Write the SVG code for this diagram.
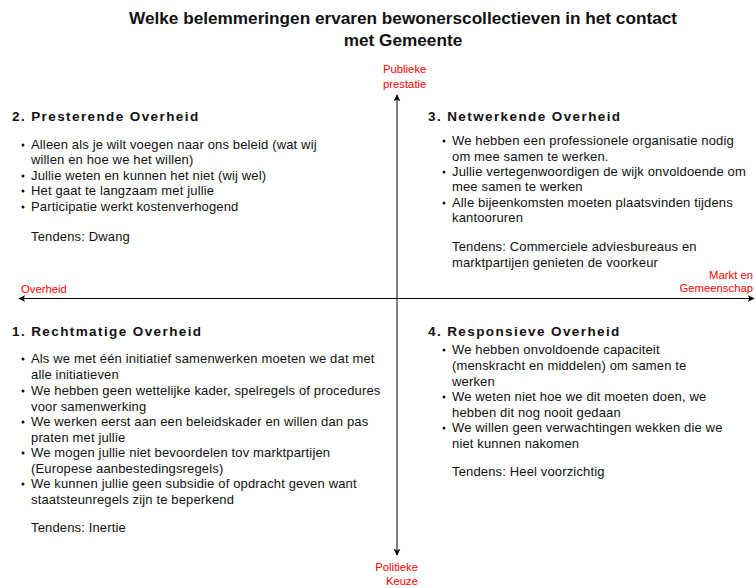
<svg xmlns="http://www.w3.org/2000/svg" width="756" height="588" viewBox="0 0 756 588">
  <style>
    text { font-family: "Liberation Sans", Arial, sans-serif; fill: #111; }
    .title { font-size: 17.2px; font-weight: bold; text-anchor: middle; }
    .head { font-size: 13.5px; font-weight: bold; letter-spacing: 1.4px; }
    .body { font-size: 13px; letter-spacing: 0.15px; }
    .axis-label { font-size: 11.3px; fill: #ff0000; }
    .axis { stroke: #000; stroke-width: 1; fill: none; }
    .dot { fill: #111; }
  </style>
  <defs>
    <marker id="arrow" viewBox="0 0 10 10" refX="9" refY="5" markerWidth="7" markerHeight="7" orient="auto">
      <path d="M0,0 L10,5 L0,10 L2.5,5 Z" fill="#000"/>
    </marker>
  </defs>

  <g id="title">
    <text class="title" x="403" y="24">Welke belemmeringen ervaren bewonerscollectieven in het contact</text>
    <text class="title" x="403" y="46">met Gemeente</text>
  </g>

  <g id="connectors">
    <line class="axis" x1="397" y1="298.5" x2="397" y2="95" marker-end="url(#arrow)"/>
    <line class="axis" x1="397" y1="298.5" x2="397" y2="555" marker-end="url(#arrow)"/>
    <line class="axis" x1="397" y1="298.5" x2="19" y2="298.5" marker-end="url(#arrow)"/>
    <line class="axis" x1="397" y1="298.5" x2="754" y2="298.5" marker-end="url(#arrow)"/>
  </g>

  <g id="axis-labels">
    <text class="axis-label" x="383" y="73">Publieke</text>
    <text class="axis-label" x="383" y="88">prestatie</text>
    <text class="axis-label" x="21" y="293">Overheid</text>
    <text class="axis-label" x="753" y="279" text-anchor="end">Markt en</text>
    <text class="axis-label" x="753" y="292" text-anchor="end">Gemeenschap</text>
    <text class="axis-label" x="418" y="571" text-anchor="end">Politieke</text>
    <text class="axis-label" x="418" y="585" text-anchor="end">Keuze</text>
  </g>

  <g id="q2-presterende">
    <text class="head" x="12" y="121">2. Presterende Overheid</text>
    <circle class="dot" cx="23" cy="145" r="1.5"/>
    <text class="body" x="31" y="149">Alleen als je wilt voegen naar ons beleid (wat wij</text>
    <text class="body" x="31" y="164">willen en hoe we het willen)</text>
    <circle class="dot" cx="23" cy="176" r="1.5"/>
    <text class="body" x="31" y="180">Jullie weten en kunnen het niet (wij wel)</text>
    <circle class="dot" cx="23" cy="191" r="1.5"/>
    <text class="body" x="31" y="195">Het gaat te langzaam met jullie</text>
    <circle class="dot" cx="23" cy="207" r="1.5"/>
    <text class="body" x="31" y="211">Participatie werkt kostenverhogend</text>
    <text class="body" x="31" y="241">Tendens: Dwang</text>
  </g>

  <g id="q3-netwerkende">
    <text class="head" x="428" y="121">3. Netwerkende Overheid</text>
    <circle class="dot" cx="444" cy="141" r="1.5"/>
    <text class="body" x="452" y="145">We hebben een professionele organisatie nodig</text>
    <text class="body" x="452" y="161">om mee samen te werken.</text>
    <circle class="dot" cx="444" cy="172" r="1.5"/>
    <text class="body" x="452" y="176">Jullie vertegenwoordigen de wijk onvoldoende om</text>
    <text class="body" x="452" y="191">mee samen te werken</text>
    <circle class="dot" cx="444" cy="203" r="1.5"/>
    <text class="body" x="452" y="207">Alle bijeenkomsten moeten plaatsvinden tijdens</text>
    <text class="body" x="452" y="222">kantooruren</text>
    <text class="body" x="452" y="251">Tendens: Commerciele adviesbureaus en</text>
    <text class="body" x="452" y="267">marktpartijen genieten de voorkeur</text>
  </g>

  <g id="q1-rechtmatige">
    <text class="head" x="12" y="336">1. Rechtmatige Overheid</text>
    <circle class="dot" cx="23" cy="359" r="1.5"/>
    <text class="body" x="31" y="363">Als we met één initiatief samenwerken moeten we dat met</text>
    <text class="body" x="31" y="379">alle initiatieven</text>
    <circle class="dot" cx="23" cy="391" r="1.5"/>
    <text class="body" x="31" y="395">We hebben geen wettelijke kader, spelregels of procedures</text>
    <text class="body" x="31" y="411">voor samenwerking</text>
    <circle class="dot" cx="23" cy="422" r="1.5"/>
    <text class="body" x="31" y="426">We werken eerst aan een beleidskader en willen dan pas</text>
    <text class="body" x="31" y="442">praten met jullie</text>
    <circle class="dot" cx="23" cy="453" r="1.5"/>
    <text class="body" x="31" y="457">We mogen jullie niet bevoordelen tov marktpartijen</text>
    <text class="body" x="31" y="473">(Europese aanbestedingsregels)</text>
    <circle class="dot" cx="23" cy="484" r="1.5"/>
    <text class="body" x="31" y="488">We kunnen jullie geen subsidie of opdracht geven want</text>
    <text class="body" x="31" y="504">staatsteunregels zijn te beperkend</text>
    <text class="body" x="31" y="532">Tendens: Inertie</text>
  </g>

  <g id="q4-responsieve">
    <text class="head" x="428" y="336">4. Responsieve Overheid</text>
    <circle class="dot" cx="444" cy="350" r="1.5"/>
    <text class="body" x="452" y="354">We hebben onvoldoende capaciteit</text>
    <text class="body" x="452" y="370">(menskracht en middelen) om samen te</text>
    <text class="body" x="452" y="386">werken</text>
    <circle class="dot" cx="444" cy="397" r="1.5"/>
    <text class="body" x="452" y="401">We weten niet hoe we dit moeten doen, we</text>
    <text class="body" x="452" y="417">hebben dit nog nooit gedaan</text>
    <circle class="dot" cx="444" cy="428" r="1.5"/>
    <text class="body" x="452" y="432">We willen geen verwachtingen wekken die we</text>
    <text class="body" x="452" y="448">niet kunnen nakomen</text>
    <text class="body" x="452" y="476">Tendens: Heel voorzichtig</text>
  </g>
</svg>
